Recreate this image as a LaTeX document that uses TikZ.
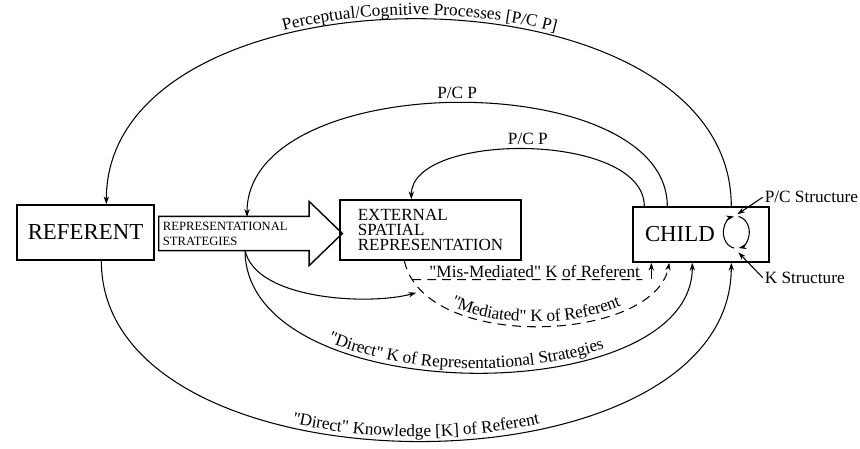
\documentclass[tikz,border=0pt]{standalone}
\usepackage{fontspec}
\setmainfont{Liberation Serif}[Ligatures=TeXOff]
\usetikzlibrary{positioning, calc, shapes.arrows, arrows.meta, decorations.text}

\begin{document}
\begin{tikzpicture}[
  x=0.02cm, y=-0.02cm,
  box/.style={rectangle, draw, line width=0.8pt, inner sep=0pt},
  bigword/.style={font=\fontsize{13}{15}\selectfont},
  lbl/.style={font=\fontsize{9.8}{11}\selectfont, inner sep=1pt},
  link/.style={line width=0.6pt, -{Stealth[length=4.5pt, width=3pt]}},
  mediated/.style={link, dash pattern=on 5pt off 3.5pt},
  % text set along a curve
  along/.style={postaction={decorate, decoration={text along path, text align=center, raise=2.5pt,
    text={|\fontsize{9.8}{11}\selectfont|#1}}}},
  alongrev/.style={postaction={decorate, decoration={text along path, reverse path, text align=center, raise=2.5pt,
    text={|\fontsize{9.8}{11}\selectfont|#1}}}},
  stratarrow/.style={single arrow, draw, line width=0.8pt, align=left, text width=3.15cm,
    inner xsep=2pt, inner ysep=2.7pt, minimum height=3.54cm,
    single arrow head extend=0.3cm, single arrow tip angle=88,
    font=\fontsize{7.2}{8.5}\selectfont}
]

\useasboundingbox (0,0) rectangle (860,449);

% ============================================
% MAIN BOXES
% ============================================
\node[box, bigword, minimum width=2.74cm, minimum height=1.1cm] (referent) at (85.5,232.5) {REFERENT};
\node[stratarrow, anchor=tail] (strat) at (158,233.5) {REPRESENTATIONAL\\STRATEGIES};
\node[box, minimum width=3.62cm, minimum height=1.2cm, align=left, font=\fontsize{9.7}{8.6}\selectfont]
  (esr) at (430.5,230) {EXTERNAL\\SPATIAL\\REPRESENTATION};
\node[box, bigword, minimum width=2.72cm, minimum height=1.1cm, text width=2.24cm, align=left]
  (child) at (701,234.5) {CHILD};

% structures inside the child
\coordinate (cyc) at ($(child.north west)+(104,26)$);
\draw[link] ($(cyc)+(100:13 and 16)$) arc[start angle=100, end angle=260, x radius=13, y radius=16];
\draw[link] ($(cyc)+(280:13 and 16)$) arc[start angle=280, end angle=440, x radius=13, y radius=16];

\node[lbl, anchor=west] (pcs) at ($(child.north east)+(-7,-9)$) {P/C Structure};
\node[lbl, anchor=west] (ks) at ($(child.south east)+(-7,15)$) {K Structure};
\draw[link] (pcs.west) -- ($(cyc)+(1,-18)$);
\draw[link] (ks.west) -- ($(cyc)+(2,20)$);

% ============================================
% PERCEPTUAL / COGNITIVE PROCESSES (top)
% ============================================
\draw[link, alongrev={Perceptual/Cognitive Processes [P/C P]}]
  ($(child.north west)+(99,0)$) .. controls +(0,-249) and +(0,-247) .. ($(referent.north west)+(90,0)$);

\draw[link] ($(child.north west)+(35,0)$) .. controls +(0,-140) and +(0,-150) .. ($(strat.tail)+(89,-16.5)$)
  node[lbl, pos=0.5, above=1pt] (pcpmid) {P/C P};

\draw[link] ($(child.north west)+(12,0)$) .. controls +(0,-75) and +(0,-68) .. ($(esr.north west)+(72,0)$)
  node[lbl, pos=0.5, above=1pt] (pcpin) {P/C P};

% ============================================
% KNOWLEDGE (bottom)
% ============================================
\draw[link, along={"Direct" Knowledge [K] of Referent}]
  ($(referent.south west)+(85,0)$) .. controls +(0,240) and +(0,238) .. ($(child.south west)+(99,0)$);

\draw[link, along={"Direct" K of Representational Strategies}]
  ($(strat.tail)+(87,16.5)$) .. controls +(0,161) and +(0,149) .. ($(child.south west)+(60,0)$);

\coordinate (medin) at ($(esr.south west)+(77,32)$);
\draw[link] ($(strat.tail)+(87,16.5)$) .. controls +(10,50) and +(-47,13) .. (medin);

\draw[mediated, along={"Mediated" K of Referent}]
  ($(esr.south west)+(65,0)$) .. controls +(20,92) and +(-15,80) .. ($(child.south west)+(37,0)$);

% mis-mediated path
\coordinate (misfrom) at ($(esr.south west)+(73,19)$);
\coordinate (misto) at ($(child.south west)+(10,17)$);
\draw[line width=0.6pt, dash pattern=on 5pt off 3.5pt] (misfrom) -- (misto)
  node[lbl, anchor=south east, pos=1] (mislbl) {"Mis-Mediated" K of Referent};
\draw[link] ($(misto)+(9,-1)$) coordinate (mistail) -- (mistail |- child.south);

\end{tikzpicture}
\end{document}
